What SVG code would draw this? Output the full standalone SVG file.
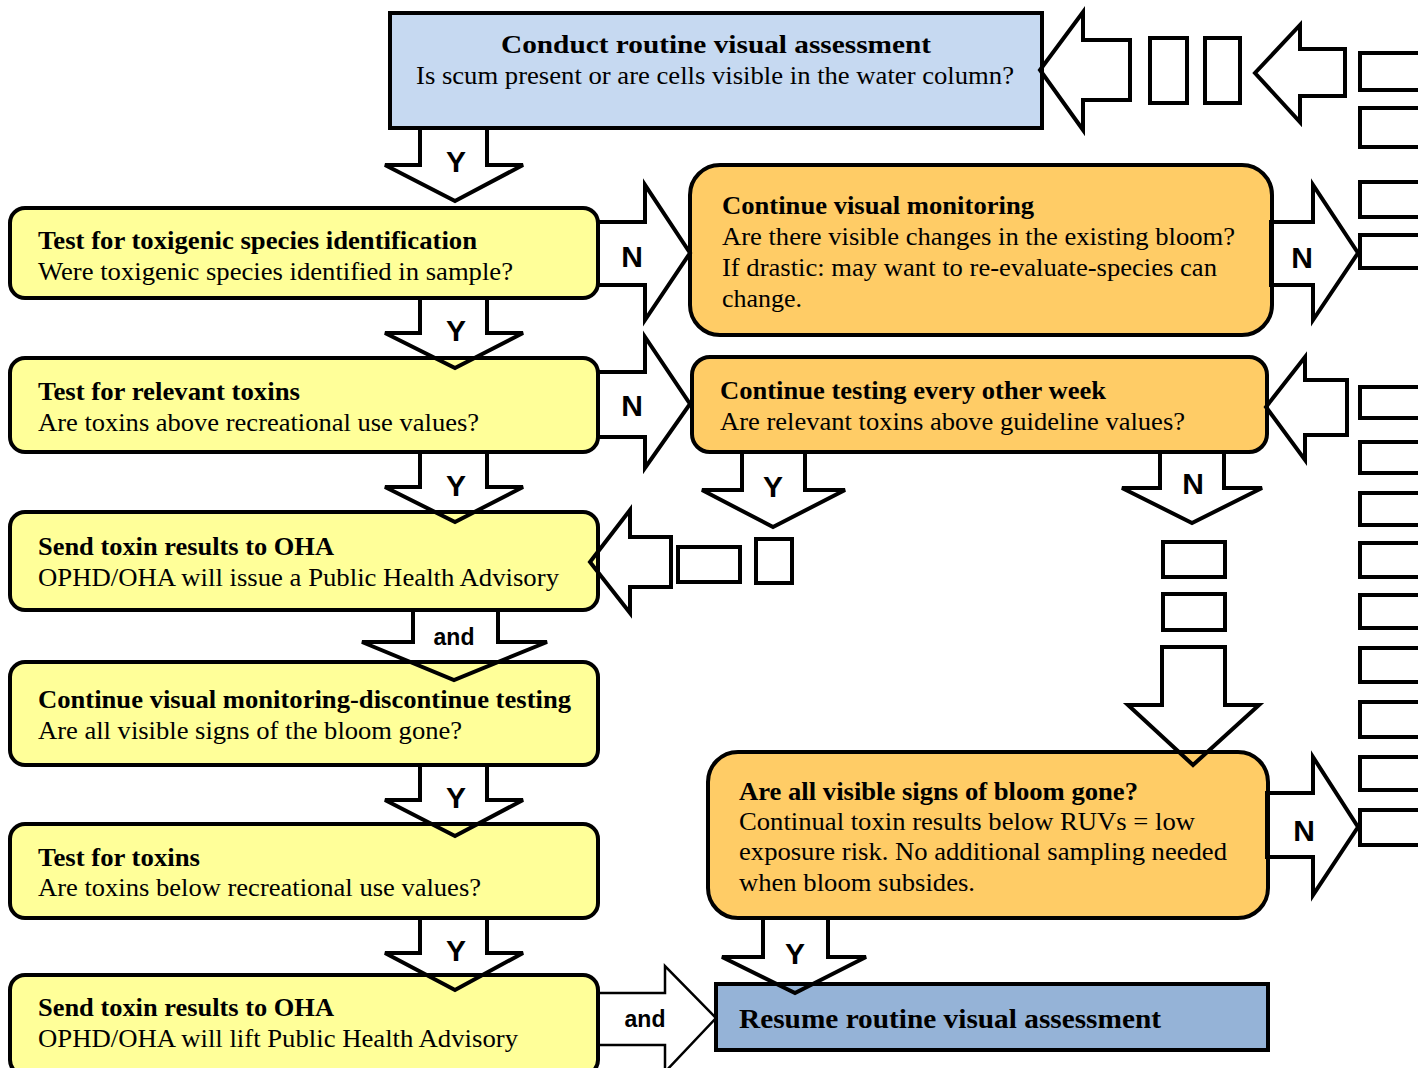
<svg xmlns="http://www.w3.org/2000/svg" xmlns:xlink="http://www.w3.org/1999/xlink" width="1418" height="1068" viewBox="0 0 1418 1068">
<style>
.box{stroke:#000;stroke-width:4}
.yel{fill:#ffff99}
.org{fill:#ffcc66}
.lb{fill:#c6d9f1}
.db{fill:#95b3d7}
.t{font-family:"Liberation Serif","Times New Roman",serif;font-size:25px;fill:#000}
.b{font-weight:bold}
.lbl{font-family:"Liberation Sans",Arial,sans-serif;font-weight:bold;font-size:30px;fill:#000;text-anchor:middle}
.and{font-size:23px}
.af{fill:#fff;stroke:none}
.ao{fill:none;stroke:#000;stroke-width:4;stroke-linejoin:miter}
.thin{stroke-width:2.5}
.frag{fill:#fff;stroke:#000;stroke-width:4}
</style>
<defs>
<path id="a1" d="M420 128 L487 128 L487 165 L523 165 L455 201 L385 165 L420 165 Z"/>
<path id="a2" d="M420 298 L487 298 L487 333 L523 333 L455 368 L385 333 L420 333 Z"/>
<path id="a3" d="M420 452 L487 452 L487 487 L523 487 L455 522 L385 487 L420 487 Z"/>
<path id="a4" d="M413 610 L498 610 L498 642 L547 642 L454 680 L362 642 L413 642 Z"/>
<path id="a5" d="M420 765 L487 765 L487 800 L523 800 L455 836 L385 800 L420 800 Z"/>
<path id="a6" d="M420 918 L487 918 L487 953 L523 953 L455 990 L385 953 L420 953 Z"/>
<path id="a7" d="M742 452 L805 452 L805 490 L845 490 L773 527 L702 490 L742 490 Z"/>
<path id="a8" d="M1160 452 L1224 452 L1224 488 L1262 488 L1192 523 L1122 488 L1160 488 Z"/>
<path id="a9" d="M1162 647 L1225 647 L1225 705 L1259 705 L1193 765 L1128 705 L1162 705 Z"/>
<path id="a10" d="M763 918 L828 918 L828 957 L866 957 L795 993 L722 957 L763 957 Z"/>
<path id="r1" d="M598 222 L645 222 L645 185 L690 253 L645 320 L645 285 L598 285 Z"/>
<path id="r2" d="M598 372 L645 372 L645 337 L690 404 L645 468 L645 437 L598 437 Z"/>
<path id="r3" d="M1271 222 L1313 222 L1313 185 L1358 253 L1313 320 L1313 285 L1271 285 Z"/>
<path id="r4" d="M1267 793 L1313 793 L1313 757 L1358 827 L1313 895 L1313 857 L1267 857 Z"/>
<path id="r5" d="M598 993 L665 993 L665 966 L716 1018 L665 1072 L665 1045 L598 1045 Z"/>
<path id="l1" d="M1130 40 L1083 40 L1083 12 L1040 70 L1083 130 L1083 100 L1130 100 Z"/>
<path id="l2" d="M1345 49 L1300 49 L1300 25 L1255 73 L1300 122 L1300 96 L1345 96 Z"/>
<path id="l3" d="M1347 380 L1305 380 L1305 357 L1266 407 L1305 460 L1305 435 L1347 435 Z"/>
<path id="l4" d="M671 537 L630 537 L630 510 L590 562 L630 613 L630 587 L671 587 Z"/>
</defs>

<g id="connector-fills" class="af">
<use xlink:href="#a1"/><use xlink:href="#a2"/><use xlink:href="#a3"/><use xlink:href="#a4"/><use xlink:href="#a5"/>
<use xlink:href="#a6"/><use xlink:href="#a7"/><use xlink:href="#a8"/><use xlink:href="#a9"/><use xlink:href="#a10"/>
<use xlink:href="#r1"/><use xlink:href="#r2"/><use xlink:href="#r3"/><use xlink:href="#r4"/><use xlink:href="#r5"/>
<use xlink:href="#l1"/><use xlink:href="#l2"/><use xlink:href="#l3"/><use xlink:href="#l4"/>
</g>

<g id="n-start">
<rect class="box lb" x="390" y="13" width="652" height="115"/>
<text class="t b" x="716" y="53" text-anchor="middle" textLength="430" lengthAdjust="spacingAndGlyphs">Conduct routine visual assessment</text>
<text class="t" x="416" y="84" textLength="598" lengthAdjust="spacingAndGlyphs">Is scum present or are cells visible in the water column?</text>
</g>
<g id="n-species">
<rect class="box yel" x="10" y="208" width="588" height="90" rx="15"/>
<text class="t b" x="38" y="249" textLength="439" lengthAdjust="spacingAndGlyphs">Test for toxigenic species identification</text>
<text class="t" x="38" y="280" textLength="475" lengthAdjust="spacingAndGlyphs">Were toxigenic species identified in sample?</text>
</g>
<g id="n-toxins">
<rect class="box yel" x="10" y="358" width="588" height="94" rx="15"/>
<text class="t b" x="38" y="400" textLength="262" lengthAdjust="spacingAndGlyphs">Test for relevant toxins</text>
<text class="t" x="38" y="431" textLength="441" lengthAdjust="spacingAndGlyphs">Are toxins above recreational use values?</text>
</g>
<g id="n-send1">
<rect class="box yel" x="10" y="512" width="588" height="98" rx="15"/>
<text class="t b" x="38" y="555" textLength="296" lengthAdjust="spacingAndGlyphs">Send toxin results to OHA</text>
<text class="t" x="38" y="586" textLength="521" lengthAdjust="spacingAndGlyphs">OPHD/OHA will issue a Public Health Advisory</text>
</g>
<g id="n-discontinue">
<rect class="box yel" x="10" y="662" width="588" height="103" rx="15"/>
<text class="t b" x="38" y="708" textLength="533" lengthAdjust="spacingAndGlyphs">Continue visual monitoring-discontinue testing</text>
<text class="t" x="38" y="739" textLength="424" lengthAdjust="spacingAndGlyphs">Are all visible signs of the bloom gone?</text>
</g>
<g id="n-test">
<rect class="box yel" x="10" y="824" width="588" height="94" rx="15"/>
<text class="t b" x="38" y="866" textLength="162" lengthAdjust="spacingAndGlyphs">Test for toxins</text>
<text class="t" x="38" y="896" textLength="443" lengthAdjust="spacingAndGlyphs">Are toxins below recreational use values?</text>
</g>
<g id="n-send2">
<rect class="box yel" x="10" y="975" width="588" height="100" rx="15"/>
<text class="t b" x="38" y="1016" textLength="296" lengthAdjust="spacingAndGlyphs">Send toxin results to OHA</text>
<text class="t" x="38" y="1047" textLength="480" lengthAdjust="spacingAndGlyphs">OPHD/OHA will lift Public Health Advisory</text>
</g>
<g id="n-monitor">
<rect class="box org" x="690" y="165" width="582" height="170" rx="30"/>
<text class="t b" x="722" y="214" textLength="312" lengthAdjust="spacingAndGlyphs">Continue visual monitoring</text>
<text class="t" x="722" y="245" textLength="513" lengthAdjust="spacingAndGlyphs">Are there visible changes in the existing bloom?</text>
<text class="t" x="722" y="276" textLength="495" lengthAdjust="spacingAndGlyphs">If drastic: may want to re-evaluate-species can</text>
<text class="t" x="722" y="307" textLength="80" lengthAdjust="spacingAndGlyphs">change.</text>
</g>
<g id="n-weekly">
<rect class="box org" x="692" y="357" width="575" height="95" rx="18"/>
<text class="t b" x="720" y="399" textLength="386" lengthAdjust="spacingAndGlyphs">Continue testing every other week</text>
<text class="t" x="720" y="430" textLength="465" lengthAdjust="spacingAndGlyphs">Are relevant toxins above guideline values?</text>
</g>
<g id="n-gone">
<rect class="box org" x="708" y="752" width="560" height="166" rx="30"/>
<text class="t b" x="739" y="800" textLength="399" lengthAdjust="spacingAndGlyphs">Are all visible signs of bloom gone?</text>
<text class="t" x="739" y="830" textLength="456" lengthAdjust="spacingAndGlyphs">Continual toxin results below RUVs = low</text>
<text class="t" x="739" y="860" textLength="488" lengthAdjust="spacingAndGlyphs">exposure risk. No additional sampling needed</text>
<text class="t" x="739" y="891" textLength="236" lengthAdjust="spacingAndGlyphs">when bloom subsides.</text>
</g>
<g id="n-resume">
<rect class="box db" x="716" y="984" width="552" height="66"/>
<text class="t b" x="739" y="1028" textLength="422" lengthAdjust="spacingAndGlyphs" style="font-size:27px">Resume routine visual assessment</text>
</g>

<g id="connectors">
<g class="ao">
<use xlink:href="#a1"/><use xlink:href="#a2"/><use xlink:href="#a3"/><use xlink:href="#a4"/><use xlink:href="#a5"/>
<use xlink:href="#a6"/><use xlink:href="#a7"/><use xlink:href="#a8"/><use xlink:href="#a9"/><use xlink:href="#a10"/>
<use xlink:href="#r1"/><use xlink:href="#r2"/><use xlink:href="#r3"/><use xlink:href="#r4"/><use xlink:href="#r5" class="thin"/>
<use xlink:href="#l1"/><use xlink:href="#l2"/><use xlink:href="#l3"/><use xlink:href="#l4"/>
</g>
<g class="frag">
<rect x="1150" y="38" width="37" height="65"/>
<rect x="1205" y="38" width="35" height="65"/>
<rect x="678" y="547" width="62" height="35"/>
<rect x="756" y="539" width="36" height="44"/>
<rect x="1163" y="542" width="62" height="35"/>
<rect x="1163" y="594" width="62" height="36"/>
<rect x="1360" y="53" width="80" height="37"/>
<rect x="1360" y="108" width="80" height="39"/>
<rect x="1360" y="182" width="80" height="35"/>
<rect x="1360" y="235" width="80" height="33"/>
<rect x="1360" y="387" width="80" height="31"/>
<rect x="1360" y="442" width="80" height="31"/>
<rect x="1360" y="493" width="80" height="32"/>
<rect x="1360" y="543" width="80" height="34"/>
<rect x="1360" y="595" width="80" height="33"/>
<rect x="1360" y="648" width="80" height="34"/>
<rect x="1360" y="702" width="80" height="35"/>
<rect x="1360" y="757" width="80" height="33"/>
<rect x="1360" y="810" width="80" height="35"/>
</g>
<text class="lbl" x="456" y="172">Y</text>
<text class="lbl" x="456" y="341">Y</text>
<text class="lbl" x="456" y="496">Y</text>
<text class="lbl and" x="454" y="645">and</text>
<text class="lbl" x="456" y="808">Y</text>
<text class="lbl" x="456" y="961">Y</text>
<text class="lbl" x="632" y="267">N</text>
<text class="lbl" x="632" y="416">N</text>
<text class="lbl" x="1302" y="268">N</text>
<text class="lbl" x="1304" y="841">N</text>
<text class="lbl" x="773" y="497">Y</text>
<text class="lbl" x="1193" y="494">N</text>
<text class="lbl" x="795" y="964">Y</text>
<text class="lbl and" x="645" y="1027">and</text>
</g>
</svg>
